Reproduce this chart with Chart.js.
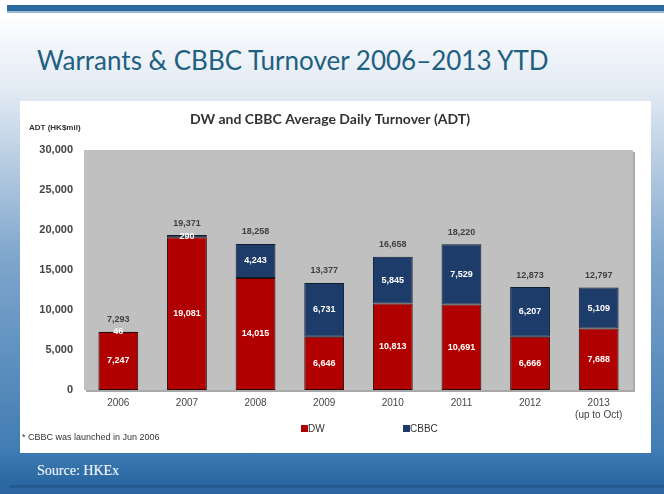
<!DOCTYPE html>
<html>
<head>
<meta charset="utf-8">
<script src="https://cdn.jsdelivr.net/npm/chart.js@4.4.0/dist/chart.umd.min.js"></script>
<style>
  body { margin: 0; }
  #slide { position: relative; width: 664px; height: 494px; overflow: hidden;
    background: linear-gradient(to bottom, #ffffff 15px, #f4f7fb 40px, #dfe8f2 100px, #dfe8f2 100%); }
  #topbar { position: absolute; left: 7px; top: 5px; width: 657px; height: 6px; background: #2c6aa2; }
  #topline { position: absolute; left: 7px; top: 11px; width: 657px; height: 2px; background: #9bb8d6; }
  #leftstrip { position: absolute; left: 0; top: 95px; width: 22px; height: 360px;
    background: linear-gradient(to bottom, #dfe8f2, #7fa6cc 45%, #3f7bb2); }
  #rightstrip { position: absolute; right: 0; top: 95px; width: 15px; height: 360px;
    background: linear-gradient(to bottom, #dfe8f2, #7fa6cc 45%, #3f7bb2); }
  #bottom { position: absolute; left: 0; top: 453px; width: 664px; height: 41px;
    background: linear-gradient(to bottom, #3d7ab3, #2d6ba4 60%, #2a64a0); }
  #bottomline { position: absolute; left: 9px; top: 485px; width: 655px; height: 3px; background: #245a8f; }
  #title { position: absolute; left: 37px; top: 44px; font-family: Lato, sans-serif; font-size: 26px;
    color: #1e6080; white-space: nowrap; }
  #source { position: absolute; left: 37px; top: 463px; font-family: "Liberation Serif", serif;
    font-size: 14px; color: #ffffff; }
  #panel { position: absolute; left: 20px; top: 101px; width: 631px; height: 352px; background: #fff; }
</style>
</head>
<body>
<div id="slide">
  <div id="topbar"></div>
  <div id="topline"></div>
  <div id="leftstrip"></div>
  <div id="rightstrip"></div>
  <div id="bottom"></div>
  <div id="bottomline"></div>
  <div id="title">Warrants &amp; CBBC Turnover 2006–2013 YTD</div>
  <div id="source">Source: HKEx</div>
  <div id="panel"><canvas id="grafico" width="631" height="352"></canvas></div>
</div>
<script>
// valori (HK$ mil)
var anni = ['2006', '2007', '2008', '2009', '2010', '2011', '2012', ['2013', '(up to Oct)']];
var dw = [7247, 19081, 14015, 6646, 10813, 10691, 6666, 7688];
var cbbc = [46, 290, 4243, 6731, 5845, 7529, 6207, 5109];
var totali = [7293, 19371, 18258, 13377, 16658, 18220, 12873, 12797];
var tickY = [0, 5000, 10000, 15000, 20000, 25000, 30000];

var rosso = '#b00000';
var blu = '#1e3c6a';

function numero(v) {
  return v.toLocaleString('en-US');
}

// sfondo grigio dell'area del grafico
var sfondoPlot = {
  id: 'sfondoPlot',
  beforeDatasetsDraw: function(chart) {
    var ctx = chart.ctx, a = chart.chartArea;
    ctx.save();
    ctx.fillStyle = '#a9a9a9';
    ctx.fillRect(a.left + 2, a.top + 2, a.right - a.left, a.bottom - a.top);
    ctx.fillStyle = '#c0c0c0';
    ctx.fillRect(a.left, a.top, a.right - a.left, a.bottom - a.top);
    ctx.restore();
  }
};

// etichette, titolo, legenda e nota
var etichette = {
  id: 'etichette',
  afterDatasetsDraw: function(chart) {
    var ctx = chart.ctx;
    ctx.save();
    ctx.textAlign = 'center';
    ctx.textBaseline = 'middle';
    ctx.font = 'bold 9px "Liberation Sans", Arial, sans-serif';
    ctx.fillStyle = '#ffffff';
    chart.data.datasets.forEach(function(ds, i) {
      chart.getDatasetMeta(i).data.forEach(function(bar, j) {
        ctx.fillText(numero(ds.data[j]), bar.x, (bar.y + bar.base) / 2);
      });
    });
    var top = chart.getDatasetMeta(1).data;
    ctx.fillStyle = '#404040';
    top.forEach(function(bar, j) {
      ctx.fillText(numero(totali[j]), bar.x, bar.y - 12);
    });

    // titolo
    ctx.font = 'bold 14px Lato, sans-serif';
    ctx.fillStyle = '#333333';
    ctx.fillText('DW and CBBC Average Daily Turnover (ADT)', 310, 18);

    ctx.textAlign = 'left';
    ctx.font = 'bold 8px "Liberation Sans", Arial, sans-serif';
    ctx.fillStyle = '#333333';
    ctx.fillText('ADT (HK$mil)', 9, 27);

    // legenda
    ctx.font = '10px "Liberation Sans", Arial, sans-serif';
    var voci = [[281, rosso, 'DW'], [383, blu, 'CBBC']];
    voci.forEach(function(v) {
      ctx.fillStyle = v[1];
      ctx.fillRect(v[0], 324, 7, 7);
      ctx.fillStyle = '#333333';
      ctx.fillText(v[2], v[0] + 7, 328);
    });

    ctx.font = '9px "Liberation Sans", Arial, sans-serif';
    ctx.fillStyle = '#333333';
    ctx.fillText('* CBBC was launched in Jun 2006', 2, 337);
    ctx.restore();
  }
};

var grafico = new Chart(document.getElementById('grafico'), {
  type: 'bar',
  data: {
    labels: anni,
    datasets: [{
      label: 'DW',
      data: dw,
      backgroundColor: rosso,
      borderColor: '#2a0a0a',
      borderWidth: 1,
      borderSkipped: false
    }, {
      label: 'CBBC',
      data: cbbc,
      backgroundColor: blu,
      borderColor: '#0d1a30',
      borderWidth: 1,
      borderSkipped: false
    }]
  },
  options: {
    responsive: false,
    animation: false,
    layout: { padding: { left: 0, top: 49, right: 18, bottom: 0 } },
    datasets: { bar: { categoryPercentage: 1, barPercentage: 0.58 } },
    plugins: { legend: { display: false }, tooltip: { enabled: false } },
    scales: {
      x: {
        stacked: true,
        grid: { display: false, drawTicks: false },
        border: { display: false },
        ticks: { padding: 7, color: '#444', font: { family: '"Liberation Sans", Arial, sans-serif', size: 10 } },
        afterFit: function(scale) { scale.height = 63; }
      },
      y: {
        stacked: true,
        min: 0,
        max: 30000,
        afterBuildTicks: function(scale) {
          scale.ticks = tickY.map(function(v) { return { value: v }; });
        },
        grid: { display: false, drawTicks: false },
        border: { display: false },
        ticks: {
          padding: 11,
          color: '#444',
          font: { family: '"Liberation Sans", Arial, sans-serif', size: 11, weight: 'bold' },
          callback: function(v) { return numero(v); }
        },
        afterFit: function(scale) { scale.width = 64; }
      }
    }
  },
  plugins: [sfondoPlot, etichette]
});
</script>
</body>
</html>
